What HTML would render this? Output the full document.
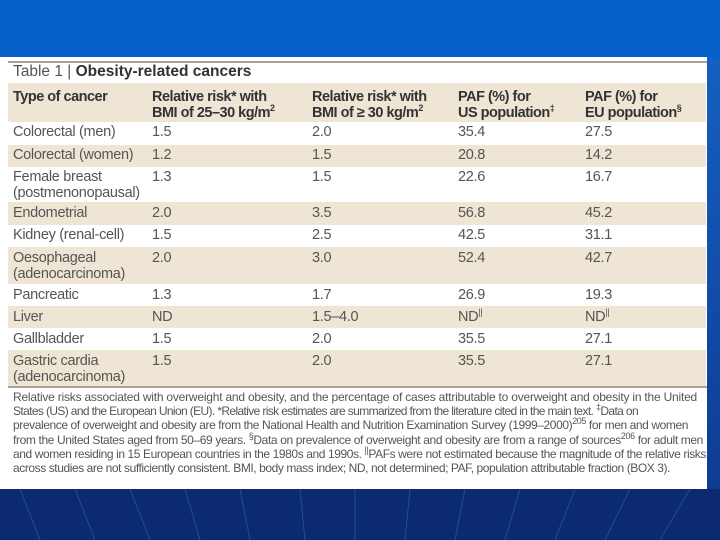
<!DOCTYPE html>
<html><head><meta charset="utf-8"><style>
*{margin:0;padding:0;box-sizing:border-box}
body{width:720px;height:540px;overflow:hidden;position:relative;background:#0d2f7a;font-family:"Liberation Sans",sans-serif}
#topband{position:absolute;left:0;top:0;width:720px;height:58px;background:#0660c8}
#rightband{position:absolute;left:707px;top:58px;width:13px;height:432px;background:linear-gradient(#1560c0,#0e3c94)}
#bottom{position:absolute;left:0;top:489px;width:720px;height:51px}
#panel{position:absolute;left:0;top:57px;width:707px;height:432px;background:#fff;overflow:hidden}
.rule{position:absolute;left:8px;width:699px;height:2px;background:#a8a29a}
.band{position:absolute;left:8px;width:698px;background:#efe5d5}
.t{position:absolute;font-size:14.5px;color:#555;line-height:16px;white-space:nowrap;letter-spacing:-0.3px}
.h{position:absolute;font-size:14.5px;color:#333;font-weight:bold;line-height:16px;white-space:nowrap;letter-spacing:-0.5px}
sup{font-size:9px;line-height:0}
#title{position:absolute;left:13px;top:6px;font-size:15.5px;color:#555;white-space:nowrap}
#foot{position:absolute;left:13px;top:333px;width:694px;font-size:12px;line-height:14.2px;color:#555;letter-spacing:-0.3px}
#foot div{white-space:nowrap}
#foot span{display:inline-block}
</style></head><body>
<div id="topband"></div>
<div id="rightband"></div>
<svg id="bottom" width="720" height="51" viewBox="0 0 720 51">
<rect width="720" height="51" fill="#0b2a70"/>
<g stroke="#2a5ab0" stroke-width="1" opacity="0.7">
<line x1="20" y1="0" x2="40" y2="51"/><line x1="75" y1="0" x2="95" y2="51"/><line x1="130" y1="0" x2="150" y2="51"/>
<line x1="185" y1="0" x2="200" y2="51"/><line x1="240" y1="0" x2="250" y2="51"/><line x1="300" y1="0" x2="305" y2="51"/>
<line x1="355" y1="0" x2="355" y2="51"/><line x1="410" y1="0" x2="405" y2="51"/><line x1="465" y1="0" x2="455" y2="51"/>
<line x1="520" y1="0" x2="505" y2="51"/><line x1="575" y1="0" x2="555" y2="51"/><line x1="630" y1="0" x2="605" y2="51"/><line x1="690" y1="0" x2="660" y2="51"/>
</g></svg>
<div id="panel">
<div class="rule" style="top:4px"></div>
<div id="title">Table 1 | <b style="color:#333">Obesity-related cancers</b></div>
<div class="band" style="top:26px;height:39px"></div>
<div class="band" style="top:88px;height:22px"></div>
<div class="band" style="top:145px;height:23px"></div>
<div class="band" style="top:190px;height:37px"></div>
<div class="band" style="top:249px;height:22px"></div>
<div class="band" style="top:293px;height:36px"></div>
<div class="rule" style="top:329px"></div>

<div class="h" style="left:13px;top:32px">Type of cancer</div>
<div class="h" style="left:152px;top:32px">Relative risk* with<br>BMI of 25–30 kg/m<sup>2</sup></div>
<div class="h" style="left:312px;top:32px">Relative risk* with<br>BMI of ≥ 30 kg/m<sup>2</sup></div>
<div class="h" style="left:458px;top:32px">PAF (%) for<br>US population<sup>‡</sup></div>
<div class="h" style="left:585px;top:32px">PAF (%) for<br>EU population<sup>§</sup></div>

<div><div class="t" style="left:13px;top:67px">Colorectal (men)</div><div class="t" style="left:152px;top:67px">1.5</div><div class="t" style="left:312px;top:67px">2.0</div><div class="t" style="left:458px;top:67px">35.4</div><div class="t" style="left:585px;top:67px">27.5</div></div>
<div><div class="t" style="left:13px;top:90px">Colorectal (women)</div><div class="t" style="left:152px;top:90px">1.2</div><div class="t" style="left:312px;top:90px">1.5</div><div class="t" style="left:458px;top:90px">20.8</div><div class="t" style="left:585px;top:90px">14.2</div></div>
<div><div class="t" style="left:13px;top:112px">Female breast<br>(postmenonopausal)</div><div class="t" style="left:152px;top:112px">1.3</div><div class="t" style="left:312px;top:112px">1.5</div><div class="t" style="left:458px;top:112px">22.6</div><div class="t" style="left:585px;top:112px">16.7</div></div>
<div><div class="t" style="left:13px;top:148px">Endometrial</div><div class="t" style="left:152px;top:148px">2.0</div><div class="t" style="left:312px;top:148px">3.5</div><div class="t" style="left:458px;top:148px">56.8</div><div class="t" style="left:585px;top:148px">45.2</div></div>
<div><div class="t" style="left:13px;top:170px">Kidney (renal-cell)</div><div class="t" style="left:152px;top:170px">1.5</div><div class="t" style="left:312px;top:170px">2.5</div><div class="t" style="left:458px;top:170px">42.5</div><div class="t" style="left:585px;top:170px">31.1</div></div>
<div><div class="t" style="left:13px;top:193px">Oesophageal<br>(adenocarcinoma)</div><div class="t" style="left:152px;top:193px">2.0</div><div class="t" style="left:312px;top:193px">3.0</div><div class="t" style="left:458px;top:193px">52.4</div><div class="t" style="left:585px;top:193px">42.7</div></div>
<div><div class="t" style="left:13px;top:230px">Pancreatic</div><div class="t" style="left:152px;top:230px">1.3</div><div class="t" style="left:312px;top:230px">1.7</div><div class="t" style="left:458px;top:230px">26.9</div><div class="t" style="left:585px;top:230px">19.3</div></div>
<div><div class="t" style="left:13px;top:252px">Liver</div><div class="t" style="left:152px;top:252px">ND</div><div class="t" style="left:312px;top:252px">1.5–4.0</div><div class="t" style="left:458px;top:252px">ND<sup>||</sup></div><div class="t" style="left:585px;top:252px">ND<sup>||</sup></div></div>
<div><div class="t" style="left:13px;top:274px">Gallbladder</div><div class="t" style="left:152px;top:274px">1.5</div><div class="t" style="left:312px;top:274px">2.0</div><div class="t" style="left:458px;top:274px">35.5</div><div class="t" style="left:585px;top:274px">27.1</div></div>
<div><div class="t" style="left:13px;top:296px">Gastric cardia<br>(adenocarcinoma)</div><div class="t" style="left:152px;top:296px">1.5</div><div class="t" style="left:312px;top:296px">2.0</div><div class="t" style="left:458px;top:296px">35.5</div><div class="t" style="left:585px;top:296px">27.1</div></div>

<div id="foot">
<div><span data-w="684">Relative risks associated with overweight and obesity, and the percentage of cases attributable to overweight and obesity in the United</span></div>
<div><span data-w="625">States (US) and the European Union (EU). *Relative risk estimates are summarized from the literature cited in the main text. <sup>‡</sup>Data on</span></div>
<div><span data-w="675">prevalence of overweight and obesity are from the National Health and Nutrition Examination Survey (1999–2000)<sup>205</sup> for men and women</span></div>
<div><span data-w="690">from the United States aged from 50–69 years. <sup>§</sup>Data on prevalence of overweight and obesity are from a range of sources<sup>206</sup> for adult men</span></div>
<div><span data-w="693">and women residing in 15 European countries in the 1980s and 1990s. <sup>||</sup>PAFs were not estimated because the magnitude of the relative risks</span></div>
<div><span data-w="657">across studies are not sufficiently consistent. BMI, body mass index; ND, not determined; PAF, population attributable fraction (BOX 3).</span></div>
</div>
</div>
<script>
document.querySelectorAll('#foot span').forEach(function(s){
  var target=+s.getAttribute('data-w');
  var n=s.textContent.length;
  var w=s.getBoundingClientRect().width;
  var ls=-0.3+(target-w)/n;
  s.style.letterSpacing=ls+'px';
});
</script>
</body></html>
